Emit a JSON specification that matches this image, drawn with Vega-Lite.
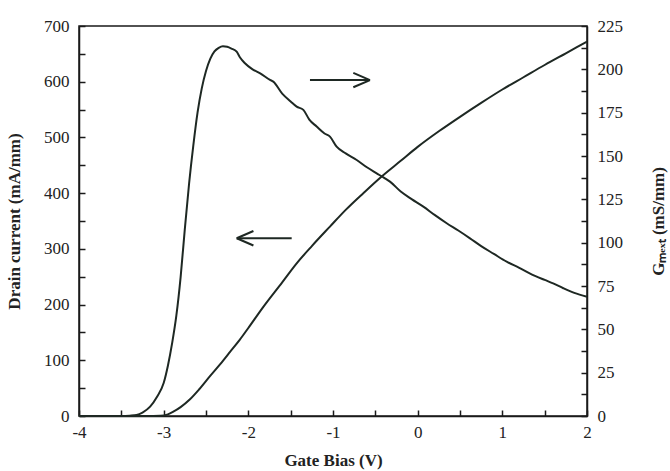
{
  "$schema": "https://vega.github.io/schema/vega-lite/v6.json",
  "width": 508,
  "height": 390,
  "autosize": {"type": "none"},
  "padding": {"left": 79, "top": 26, "right": 83, "bottom": 55},
  "background": "white",
  "view": {"stroke": "#1a1a1a", "strokeWidth": 1.5},
  "config": {
    "font": "Liberation Serif",
    "axis": {
      "labelFont": "Liberation Serif",
      "labelFontSize": 17,
      "labelColor": "#222",
      "titleFont": "Liberation Serif",
      "titleFontSize": 17,
      "titleFontWeight": "bold",
      "titleColor": "#222",
      "domainColor": "#1a1a1a",
      "domainWidth": 1.5,
      "tickColor": "#1a1a1a",
      "tickWidth": 1.5,
      "tickSize": -6,
      "grid": false
    }
  },
  "datasets": {
    "id": [
      {"v": -4, "i": 0}, {"v": -3.2, "i": 0}, {"v": -3.04, "i": 0.5}, {"v": -2.95, "i": 3},
      {"v": -2.886, "i": 7.8}, {"v": -2.8, "i": 16}, {"v": -2.689, "i": 30}, {"v": -2.58, "i": 48},
      {"v": -2.453, "i": 71.5}, {"v": -2.3, "i": 99}, {"v": -2.216, "i": 115}, {"v": -2.1, "i": 137},
      {"v": -2.0, "i": 158}, {"v": -1.823, "i": 196}, {"v": -1.6, "i": 240}, {"v": -1.429, "i": 274},
      {"v": -1.25, "i": 305}, {"v": -1.036, "i": 340}, {"v": -0.85, "i": 370}, {"v": -0.642, "i": 400},
      {"v": -0.425, "i": 430}, {"v": -0.2, "i": 458}, {"v": 0.0, "i": 483}, {"v": 0.25, "i": 511},
      {"v": 0.5, "i": 537}, {"v": 0.75, "i": 562}, {"v": 1.0, "i": 586}, {"v": 1.25, "i": 608},
      {"v": 1.5, "i": 630}, {"v": 1.75, "i": 651}, {"v": 2.0, "i": 672}
    ],
    "gm": [
      {"v": -4, "g": 0}, {"v": -3.5, "g": 0}, {"v": -3.4, "g": 0.2}, {"v": -3.32, "g": 0.6},
      {"v": -3.25, "g": 2}, {"v": -3.16, "g": 5.4}, {"v": -3.08, "g": 11}, {"v": -3.0, "g": 19},
      {"v": -2.95, "g": 29}, {"v": -2.9, "g": 42}, {"v": -2.85, "g": 58}, {"v": -2.8, "g": 80},
      {"v": -2.75, "g": 108}, {"v": -2.7, "g": 134}, {"v": -2.65, "g": 156}, {"v": -2.6, "g": 175},
      {"v": -2.55, "g": 189}, {"v": -2.5, "g": 199}, {"v": -2.45, "g": 206}, {"v": -2.4, "g": 210.3},
      {"v": -2.35, "g": 212.4}, {"v": -2.3, "g": 213.3}, {"v": -2.25, "g": 213},
      {"v": -2.2, "g": 212}, {"v": -2.138, "g": 210.2}, {"v": -2.1, "g": 207}, {"v": -2.04, "g": 203.5},
      {"v": -1.95, "g": 200}, {"v": -1.86, "g": 197.7}, {"v": -1.744, "g": 193.9}, {"v": -1.705, "g": 192.9},
      {"v": -1.6, "g": 186}, {"v": -1.5, "g": 181.5}, {"v": -1.429, "g": 178.5}, {"v": -1.35, "g": 176.6},
      {"v": -1.28, "g": 171}, {"v": -1.193, "g": 167}, {"v": -1.1, "g": 163}, {"v": -1.036, "g": 161.2},
      {"v": -0.957, "g": 155.4}, {"v": -0.85, "g": 151.5}, {"v": -0.72, "g": 147.7}, {"v": -0.6, "g": 143.5},
      {"v": -0.484, "g": 140}, {"v": -0.4, "g": 137.5}, {"v": -0.327, "g": 135.2}, {"v": -0.2, "g": 129.5},
      {"v": -0.067, "g": 125}, {"v": 0.067, "g": 120.8}, {"v": 0.2, "g": 116}, {"v": 0.343, "g": 111.2},
      {"v": 0.48, "g": 107}, {"v": 0.618, "g": 102.5}, {"v": 0.75, "g": 98}, {"v": 0.9, "g": 93.5},
      {"v": 1.051, "g": 89}, {"v": 1.2, "g": 85.5}, {"v": 1.323, "g": 82.3}, {"v": 1.5, "g": 78.5},
      {"v": 1.6, "g": 76.5}, {"v": 1.72, "g": 73.7}, {"v": 1.85, "g": 71}, {"v": 2.0, "g": 68.8}
    ],
    "arrows": [
      {"xa": -1.272, "ya": 603, "xb": -0.563, "yb": 603},
      {"xa": -0.563, "ya": 603, "xb": -0.76, "yb": 616},
      {"xa": -0.563, "ya": 603, "xb": -0.76, "yb": 590},
      {"xa": -2.137, "ya": 319, "xb": -1.488, "yb": 319},
      {"xa": -2.137, "ya": 319, "xb": -1.94, "yb": 332},
      {"xa": -2.137, "ya": 319, "xb": -1.94, "yb": 306}
    ]
  },
  "layer": [
    {
      "data": {"name": "id"},
      "mark": {"type": "line", "color": "#1e2823", "strokeWidth": 2, "interpolate": "monotone"},
      "encoding": {
        "x": {
          "field": "v", "type": "quantitative",
          "scale": {"domain": [-4, 2], "nice": false},
          "axis": {
            "title": "Gate Bias (V)",
            "values": [-4, -3.5, -3, -2.5, -2, -1.5, -1, -0.5, 0, 0.5, 1, 1.5, 2],
            "labelExpr": "datum.value % 1 == 0 ? toString(datum.value) : ''",
            "labelPadding": 14,
            "titlePadding": 12,
            "labelFlush": false
          }
        },
        "y": {
          "field": "i", "type": "quantitative",
          "scale": {"domain": [0, 700], "nice": false},
          "axis": {
            "title": "Drain current (mA/mm)",
            "orient": "left",
            "values": [0, 50, 100, 150, 200, 250, 300, 350, 400, 450, 500, 550, 600, 650, 700],
            "labelExpr": "datum.value % 100 == 0 ? toString(datum.value) : ''",
            "labelPadding": 16,
            "titlePadding": 20,
            "labelFlush": false
          }
        }
      }
    },
    {
      "data": {"name": "gm"},
      "mark": {"type": "line", "color": "#1e2823", "strokeWidth": 2, "interpolate": "monotone"},
      "encoding": {
        "x": {"field": "v", "type": "quantitative", "scale": {"domain": [-4, 2], "nice": false}},
        "y": {
          "field": "g", "type": "quantitative",
          "scale": {"domain": [0, 225], "nice": false},
          "axis": {
            "title": "Gₘₑₓₜ (mS/mm)",
            "orient": "right",
            "values": [0, 12.5, 25, 37.5, 50, 62.5, 75, 87.5, 100, 112.5, 125, 137.5, 150, 162.5, 175, 187.5, 200, 212.5, 225],
            "labelExpr": "datum.value % 25 == 0 ? toString(datum.value) : ''",
            "labelPadding": 16,
            "titleAngle": 270,
            "titlePadding": 45,
            "labelFlush": false
          }
        }
      }
    },
    {
      "data": {"name": "arrows"},
      "mark": {"type": "rule", "color": "#1e2823", "strokeWidth": 2},
      "encoding": {
        "x": {"field": "xa", "type": "quantitative", "scale": {"domain": [-4, 2], "nice": false}},
        "x2": {"field": "xb"},
        "y": {"field": "ya", "type": "quantitative", "scale": {"domain": [0, 700], "nice": false}, "axis": null},
        "y2": {"field": "yb"}
      }
    }
  ],
  "resolve": {"scale": {"y": "independent"}}
}
